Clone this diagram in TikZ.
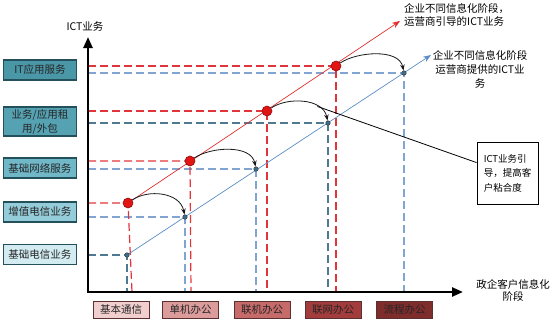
\documentclass[tikz,border=0pt]{standalone}
\usepackage{fontspec}
\setmainfont{Noto Sans CJK SC}
\usetikzlibrary{arrows.meta,calc}
\definecolor{boxline}{HTML}{24505C}
\definecolor{boxA}{HTML}{4A97A8}
\definecolor{boxB}{HTML}{55A2B3}
\definecolor{boxC}{HTML}{70B7C7}
\definecolor{boxD}{HTML}{95CCD9}
\definecolor{boxE}{HTML}{D3ECF2}
\definecolor{bline}{HTML}{5A3030}
\definecolor{pA}{HTML}{F2CFCF}
\definecolor{pB}{HTML}{DC9C9C}
\definecolor{pC}{HTML}{C66A6A}
\definecolor{pD}{HTML}{A33C3C}
\definecolor{pE}{HTML}{7E2C2C}
\definecolor{dashred}{HTML}{E0363B}
\definecolor{dashblueL}{HTML}{82A4D3}
\definecolor{dashblueD}{HTML}{4F7892}
\definecolor{redln}{HTML}{E03030}
\definecolor{blueln}{HTML}{5B8DC4}
\definecolor{reddot}{HTML}{E31414}
\definecolor{darkred}{HTML}{8A1010}
\definecolor{bluedot}{HTML}{3C6E8C}
\begin{document}
\begin{tikzpicture}[x=1pt,y=-1pt,
  font=\fontsize{10.5}{13}\selectfont,
  lbox/.style={draw=boxline, line width=1.2pt, minimum width=73pt, minimum height=20pt, inner sep=1pt, align=center, text=black!85},
  bbox/.style={draw=bline, line width=1pt, minimum width=56pt, minimum height=17pt, inner sep=1pt, text=black!85},
  rdot/.style={circle, fill=reddot, draw=darkred, line width=0.6pt, minimum size=10pt, inner sep=0pt},
  bdot/.style={circle, fill=bluedot, draw=black!75, line width=0.5pt, minimum size=4.5pt, inner sep=0pt},
  rdash/.style={draw=dashred, line width=1.2pt, dash pattern=on 8pt off 4pt},
  bdashL/.style={draw=dashblueL, line width=1.2pt, dash pattern=on 8pt off 4pt},
  bdashD/.style={draw=dashblueD, line width=1.1pt, dash pattern=on 8pt off 4pt},
  jump/.style={-{Stealth[length=6pt,width=4.5pt]}, line width=0.8pt, black!90},
  axisln/.style={line width=2.4pt, -{Triangle[length=11pt,width=9pt]}}
]
\useasboundingbox (0,0) rectangle (555,322);
% origin of the axes
\coordinate (O) at (88,292);
\coordinate (ytip) at (88,37);
\coordinate (xtip) at (463,292);
% points
\coordinate (r1) at (128,203);
\coordinate (r2) at (190,161);
\coordinate (r3) at (267,111);
\coordinate (r4) at (336,66);
\coordinate (b1) at (127,255);
\coordinate (b2) at (185,217);
\coordinate (b3) at (256,169);
\coordinate (b4) at (328,123);
\coordinate (b5) at (404,73);
\coordinate (rtip) at (400,21);
\coordinate (btip) at (431,55);

% dashed guides
\draw[bdashD] (b1 -| O) -- (b1) -- (b1 |- O);
\draw[bdashL] (b2 -| O) -- (b2) -- (b2 |- O);
\draw[bdashL] (b3 -| O) -- (b3) -- (b3 |- O);
\draw[bdashD] (b4 -| O) -- (b4) -- (b4 |- O);
\draw[bdashL] (b5 -| O) -- (b5) -- (b5 |- O);
\draw[rdash] (r1 -| O) -- (r1) -- ([xshift=4pt]r1 |- O);
\draw[rdash] (r2 -| O) -- (r2) -- ([xshift=1pt]r2 |- O);
\draw[rdash] (r3 -| O) -- (r3) -- (r3 |- O);
\draw[rdash] (r4 -| O) -- (r4) -- (r4 |- O);

% trend lines
\draw[redln, line width=0.7pt, -{Stealth[length=8pt,width=6pt]}] (r1) -- (rtip);
\draw[blueln, line width=0.7pt, -{Stealth[length=8pt,width=6pt]}] (b1) -- (btip);

% axes
\draw[axisln] (O) -- (ytip);
\draw[axisln] ([xshift=-1.2pt]O) -- (xtip);

% dots
\node[rdot] (r1d) at (r1) {};
\node[rdot] (r2d) at (r2) {};
\node[rdot] (r3d) at (r3) {};
\node[rdot] (r4d) at (r4) {};
\node[bdot] (b1d) at (b1) {};
\node[bdot] (b2d) at (b2) {};
\node[bdot] (b3d) at (b3) {};
\node[bdot] (b4d) at (b4) {};
\node[bdot] (b5d) at (b5) {};

% jump arcs
\draw[jump] (r1d) .. controls +(20,-14) and +(-5,-25) .. (b2d);
\draw[jump] (r2d) .. controls +(20,-14) and +(-5,-25) .. (b3d);
\draw[jump] (r3d) .. controls +(20,-14) and +(-5,-25) .. (b4d) coordinate[pos=0.72] (c3);
\draw[jump] (r4d) .. controls +(20,-14) and +(-5,-25) .. (b5d);

% left boxes
\node[lbox, fill=boxA] (l1) at (40,70) {IT应用服务};
\node[lbox, fill=boxB, minimum height=29pt, font=\fontsize{10.5}{14}\selectfont] (l2) at (40,121.5) {业务/应用租\\用/外包};
\node[lbox, fill=boxC] (l3) at (40,168) {基础网络服务};
\node[lbox, fill=boxD] (l4) at (40,212) {增值电信业务};
\node[lbox, fill=boxE] (l5) at (40,254.5) {基础电信业务};

% bottom boxes
\node[bbox, fill=pA] (s1) at (121,310) {基本通信};
\node[bbox, fill=pB] (s2) at (190.5,310) {单机办公};
\node[bbox, fill=pC] (s3) at (262,310) {联机办公};
\node[bbox, fill=pD] (s4) at (333,310) {联网办公};
\node[bbox, fill=pE] (s5) at (404.5,310) {流程办公};

% labels
\node (ylab) at (85,26) {ICT业务};
\node[align=left, anchor=north west, inner sep=0pt] (lab1) at (404,3) {企业不同信息化阶段，\\运营商引导的ICT业务};
\node[align=center, anchor=north, inner sep=0pt, font=\fontsize{10.5}{14}\selectfont] (lab2) at (480,50) {企业不同信息化阶段\\运营商提供的ICT业\\务};
\node[align=center, inner sep=0pt, font=\fontsize{10.5}{12}\selectfont] (xlab) at (513,290) {政企客户信息化\\阶段};

% callout
\node[draw, line width=0.8pt, minimum width=61pt, minimum height=62pt, align=left, inner sep=2pt, font=\fontsize{9.5}{14.5}\selectfont] (call) at (507.5,173) {ICT业务引\\导，提高客\\户粘合度};
\draw[line width=0.8pt] (c3) -- ($(call.north west)+(0,21)$);
\end{tikzpicture}
\end{document}
